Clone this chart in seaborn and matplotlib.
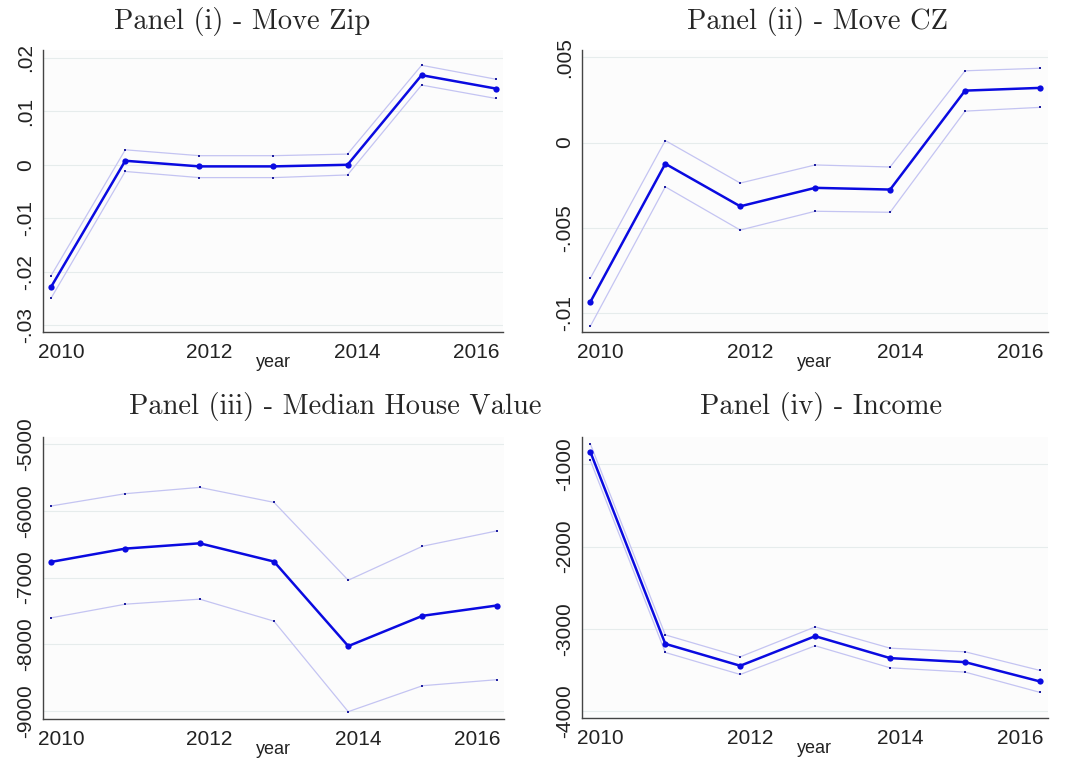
import pandas as pd
import matplotlib.pyplot as plt
import seaborn as sb
from matplotlib.transforms import ScaledTranslation

years = [2010, 2011, 2012, 2013, 2014, 2015, 2016]

# panel (i) move zip
zip_coef = [-0.0228, 0.00075, -0.0003, -0.0003, 0.0000, 0.01675, 0.01425]
zip_hi = [-0.0207, 0.0028, 0.0017, 0.0017, 0.0020, 0.0186, 0.0160]
zip_lo = [-0.0249, -0.00125, -0.0024, -0.0024, -0.0019, 0.0149, 0.0124]

# panel (ii) move cz
cz_coef = [-0.00933, -0.00124, -0.00373, -0.00265, -0.00275, 0.00304, 0.0032]
cz_hi = [-0.00794, 0.00012, -0.00237, -0.00131, -0.00143, 0.0042, 0.00435]
cz_lo = [-0.01075, -0.00259, -0.00512, -0.00402, -0.00408, 0.00184, 0.00206]

# panel (iii) median house value
hv_coef = [-6766, -6567, -6488, -6761, -8025, -7572, -7418]
hv_hi = [-5930, -5746, -5652, -5876, -7040, -6532, -6303]
hv_lo = [-7602, -7398, -7323, -7652, -9005, -8617, -8527]

# panel (iv) income
inc_coef = [-846, -3182, -3449, -3089, -3356, -3405, -3640]
inc_hi = [-749, -3073, -3340, -2976, -3235, -3279, -3506]
inc_lo = [-951, -3287, -3555, -3206, -3474, -3526, -3773]

titles = ['Panel (i) - Move Zip', 'Panel (ii) - Move CZ',
          'Panel (iii) - Median House Value', 'Panel (iv) - Income']
yticks = [[-0.03, -0.02, -0.01, 0, 0.01, 0.02],
          [-0.01, -0.005, 0, 0.005],
          [-9000, -8000, -7000, -6000, -5000],
          [-4000, -3000, -2000, -1000]]
yticklabels = [['-.03', '-.02', '-.01', '0', '.01', '.02'],
               ['-.01', '-.005', '0', '.005'],
               ['-9000', '-8000', '-7000', '-6000', '-5000'],
               ['-4000', '-3000', '-2000', '-1000']]
ylims = [(-0.0313, 0.0214), (-0.0111, 0.0054), (-9115, -4900), (-4085, -664)]
xticks = [2010, 2012, 2014, 2016]

series = [(zip_coef, zip_hi, zip_lo), (cz_coef, cz_hi, cz_lo),
          (hv_coef, hv_hi, hv_lo), (inc_coef, inc_hi, inc_lo)]

sb.set_style('white')
plt.rcParams['font.family'] = ['Liberation Sans', 'DejaVu Sans']

fig = plt.figure(figsize=(10.7, 7.62), dpi=100)

# axes boxes (left, bottom, width, height) in figure fraction
boxes = [(0.0402, 0.564, 0.430, 0.370),
         (0.544, 0.564, 0.435, 0.370),
         (0.0402, 0.0564, 0.431, 0.370),
         (0.544, 0.0577, 0.435, 0.369)]
# title centres (x, y) in figure fraction
tpos = [(0.226, 0.972), (0.764, 0.972), (0.313, 0.467), (0.767, 0.467)]
# stata nudges the year labels sideways (points)
xnudge = [7, 7, 7, -14]

for i in range(4):
    coef, hi, lo = series[i]
    df = pd.DataFrame({'year': years, 'coef': coef, 'hi': hi, 'lo': lo})
    ax = fig.add_axes(boxes[i])
    ax.set_facecolor('#fcfcfc')
    for t in yticks[i]:
        ax.axhline(t, color='#e6ecec', lw=0.8, zorder=0)
    sb.lineplot(data=df, x='year', y='hi', ax=ax, color='#c4c4f2', lw=0.9,
                marker='s', markersize=2, markeredgewidth=0,
                markerfacecolor='#2020a0')
    sb.lineplot(data=df, x='year', y='lo', ax=ax, color='#c4c4f2', lw=0.9,
                marker='s', markersize=2, markeredgewidth=0,
                markerfacecolor='#2020a0')
    sb.lineplot(data=df, x='year', y='coef', ax=ax, color='#0a0ae0', lw=1.8,
                marker='o', markersize=4.5, markeredgewidth=0)
    ax.set_xlim(2009.89, 2016.1)
    ax.set_ylim(ylims[i])
    ax.tick_params(axis='both', length=3, width=0.8, color='#444444')
    ax.tick_params(axis='x', pad=5)
    ax.tick_params(axis='y', pad=3)
    ax.set_xticks(xticks)
    ax.set_xticklabels([str(x) for x in xticks], fontsize=15, color='#222222')
    for lab, dx in zip(ax.get_xticklabels(), xnudge):
        lab.set_transform(lab.get_transform() +
                          ScaledTranslation(dx / 72, 0, fig.dpi_scale_trans))
    ax.set_yticks(yticks[i])
    ax.set_yticklabels(yticklabels[i], fontsize=15, rotation=90, va='center',
                       color='#222222')
    ax.set_ylabel('')
    ax.set_xlabel('year', fontsize=13, labelpad=-6, color='#222222')
    for s in ['top', 'right']:
        ax.spines[s].set_visible(False)
    for s in ['left', 'bottom']:
        ax.spines[s].set_color('#444444')
        ax.spines[s].set_linewidth(1.0)
    fig.text(tpos[i][0], tpos[i][1], titles[i], ha='center', va='center',
             fontsize=20.5, family=['cmr10', 'DejaVu Serif'])

fig.savefig('out.png', dpi=100)
